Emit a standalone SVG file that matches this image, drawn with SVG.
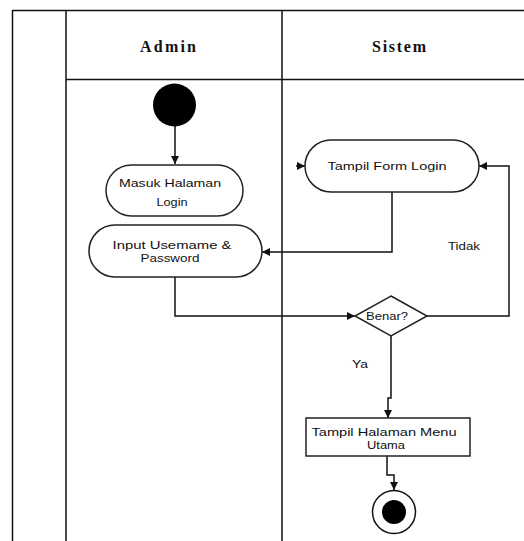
<svg xmlns="http://www.w3.org/2000/svg" width="524" height="541" viewBox="0 0 524 541">
<style>
.ln{stroke:#111;stroke-width:1.5;fill:none}
.nd{fill:#fff;stroke:#222;stroke-width:1.5}
.hd{font-family:"Liberation Serif",serif;font-weight:bold;font-size:16px;fill:#111;text-anchor:middle}
.tx{font-family:"Liberation Sans",Arial,sans-serif;font-size:11.5px;fill:#111;text-anchor:middle}
.cn{stroke:#111;stroke-width:1.5;fill:none;marker-end:url(#ah)}
</style>
<defs>
<marker id="ah" viewBox="0 0 10 10" refX="10" refY="5" markerWidth="8" markerHeight="8" markerUnits="userSpaceOnUse" orient="auto">
<path d="M0,0 L10,5 L0,10 z" fill="#111"/>
</marker>
</defs>
<rect width="524" height="541" fill="#fff"/>
<g id="frame">
<line class="ln" x1="12.5" y1="10.5" x2="524" y2="10.5"/>
<line class="ln" x1="66" y1="79.5" x2="524" y2="79.5"/>
<line class="ln" x1="12.5" y1="10" x2="12.5" y2="541"/>
<line class="ln" x1="66" y1="10" x2="66" y2="541"/>
<line class="ln" x1="282" y1="10" x2="282" y2="541"/>
<text class="hd" x="168" y="52" textLength="56" lengthAdjust="spacing">Admin</text>
<text class="hd" x="399" y="52" textLength="54" lengthAdjust="spacing">Sistem</text>
</g>
<g id="connectors">
<path class="cn" d="M296 166 H305"/>
<path class="cn" d="M175 126 V164"/>
<path class="cn" d="M392 192 V252 H262"/>
<path class="cn" d="M175 277 V316 H355"/>
<path class="cn" d="M427 316 H509 V166 H479"/>
<path class="cn" d="M391 336 V398 H388 V418"/>
<path class="cn" d="M387 456 V475 H394 V490"/>
<text class="tx" x="464" y="250" textLength="32" lengthAdjust="spacingAndGlyphs">Tidak</text>
<text class="tx" x="360" y="368" textLength="16" lengthAdjust="spacingAndGlyphs">Ya</text>
</g>
<g id="start">
<circle cx="174.5" cy="105" r="21.5" fill="#000"/>
</g>
<g id="masuk">
<rect class="nd" x="106" y="165" width="137" height="51" rx="25.5"/>
<text class="tx" x="170" y="187" textLength="102" lengthAdjust="spacingAndGlyphs">Masuk  Halaman</text>
<text class="tx" x="172" y="206" textLength="31" lengthAdjust="spacingAndGlyphs">Login</text>
</g>
<g id="input">
<rect class="nd" x="89" y="225" width="173" height="52" rx="26"/>
<text class="tx" x="172" y="249" textLength="119" lengthAdjust="spacingAndGlyphs">Input Usemame   &amp;</text>
<text class="tx" x="170" y="262" textLength="59" lengthAdjust="spacingAndGlyphs">Password</text>
</g>
<g id="tampilform">
<rect class="nd" x="305" y="140" width="174" height="52" rx="26"/>
<text class="tx" x="387" y="170" textLength="119" lengthAdjust="spacingAndGlyphs">Tampil  Form  Login</text>
</g>
<g id="decision">
<polygon class="nd" points="391,296 427,316 391,336 355,316"/>
<text class="tx" x="387" y="320" textLength="42" lengthAdjust="spacingAndGlyphs">Benar?</text>
</g>
<g id="menu">
<rect class="nd" x="306" y="418" width="164" height="38"/>
<text class="tx" x="384" y="436" textLength="145" lengthAdjust="spacingAndGlyphs">Tampil  Halaman   Menu</text>
<text class="tx" x="386" y="449" textLength="38" lengthAdjust="spacingAndGlyphs">Utama</text>
</g>
<g id="end">
<circle cx="394" cy="512" r="21.5" fill="#fff" stroke="#111" stroke-width="1.5"/>
<circle cx="394" cy="512" r="12" fill="#000"/>
</g>
</svg>
